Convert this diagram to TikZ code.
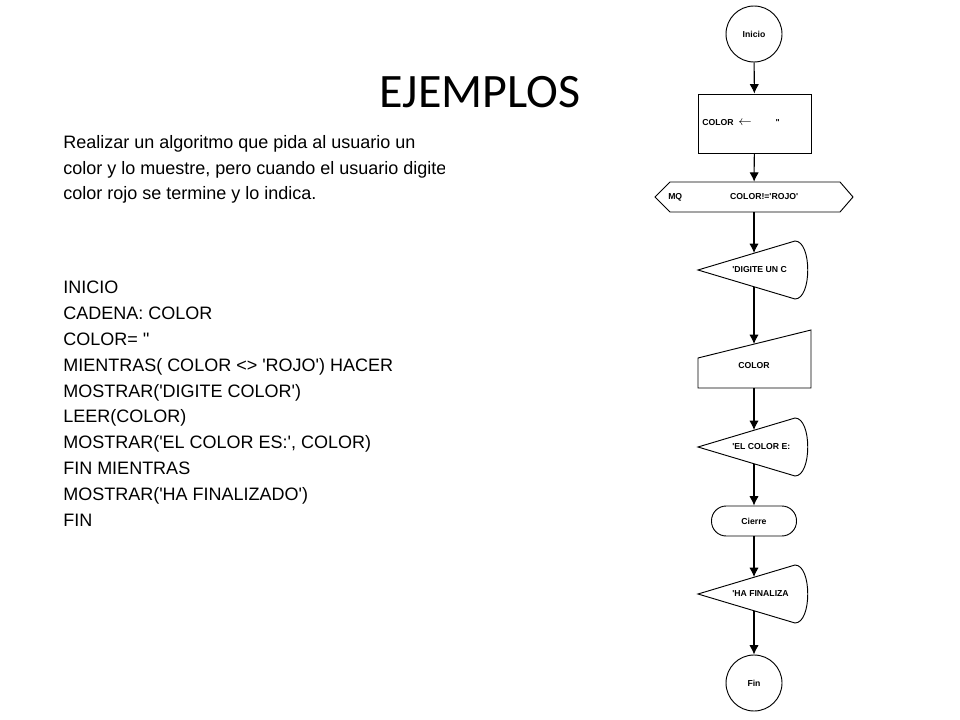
\documentclass[tikz,border=0pt]{standalone}
\usetikzlibrary{arrows.meta}
\usepackage{fontspec}
\setmainfont{Liberation Sans}[Ligatures=TeXOff]
\newfontfamily\titlefont{Carlito}
\begin{document}
\begin{tikzpicture}[x=0.75pt,y=-0.75pt,
  shp/.style={draw=black,line width=0.7pt},
  lbl/.style={font=\fontsize{6.5}{7}\selectfont\bfseries,inner sep=0pt},
  arr/.style={draw,line width=0.8pt,-{Latex[length=7pt,width=7pt]}},
  body/.style={font=\fontsize{13.5}{19.35}\selectfont,align=left,anchor=north west,inner sep=0pt}]
\useasboundingbox (0,0) rectangle (960,720);
\fill[white] (0,0) rectangle (960,720);
\node[body] (para) at (63,135) {Realizar un algoritmo que pida al usuario un\\color y lo muestre, pero cuando el usuario digite el\\color rojo se termine y lo indica.};
\node[body] (code) at (63,281) {INICIO\\CADENA: COLOR\\COLOR= ''\\MIENTRAS( COLOR <> 'ROJO') HACER\\MOSTRAR('DIGITE COLOR')\\LEER(COLOR)\\MOSTRAR('EL COLOR ES:', COLOR)\\FIN MIENTRAS\\MOSTRAR('HA FINALIZADO')\\FIN};
\fill[white] (445,0) rectangle (960,720);
\node[font=\titlefont\fontsize{36}{40}\selectfont] (title) at (480,92) {EJEMPLOS};
% flowchart
\node[shp,circle,minimum size=42pt,lbl] (ini) at (754,34) {Inicio};
\node[shp,rectangle,minimum width=84.75pt,minimum height=44.25pt] (asg) at (754.5,123.5) {};
\node[lbl,anchor=west] (asgt) at (702,123) {COLOR \ {\fontsize{10}{10}\selectfont$\leftarrow$}\hspace{18pt}"};
\draw[shp] (670,182) -- (840,182) -- (853,197) -- (840,212) -- (670,212) -- (655,197) -- cycle;
\node[inner sep=0pt,minimum width=148pt,minimum height=22.5pt] (mq) at (754,197) {};
\node[lbl,anchor=west] (mqt) at (668,197) {MQ\hspace{36pt}COLOR!='ROJO'};
\draw[shp] (698,270) -- (795,241) .. controls (812,241) and (812,299) .. (795,299) -- cycle;
\coordinate (d1in) at (754,253);
\coordinate (d1out) at (754,287);
\node[lbl,anchor=west] (d1t) at (732,270) {'DIGITE UN C};
\draw[shp] (698,358) -- (811,330) -- (811,388) -- (698,388) -- cycle;
\coordinate (rdin) at (754,344);
\coordinate (rdout) at (754,388);
\node[lbl] (rdt) at (754,366) {COLOR};
\draw[shp] (698,447) -- (795,418) .. controls (812,418) and (812,476) .. (795,476) -- cycle;
\coordinate (d2in) at (754,430);
\coordinate (d2out) at (754,464);
\node[lbl,anchor=west] (d2t) at (732,447) {'EL COLOR E:};
\node[shp,rounded corners=11pt,minimum width=63.75pt,minimum height=22.5pt,lbl] (cie) at (754,521) {Cierre};
\draw[shp] (698,594) -- (795,565) .. controls (812,565) and (812,623) .. (795,623) -- cycle;
\coordinate (d3in) at (754,577);
\coordinate (d3out) at (754,611);
\node[lbl,anchor=west] (d3t) at (732,594) {'HA FINALIZA};
\node[shp,circle,minimum size=42pt,lbl] (fin) at (754,683) {Fin};
\draw[arr] (ini) -- (asg);
\draw[arr] (asg) -- (mq);
\draw[arr] (mq) -- (d1in);
\draw[arr] (d1out) -- (rdin);
\draw[arr] (rdout) -- (d2in);
\draw[arr] (d2out) -- (cie);
\draw[arr] (cie) -- (d3in);
\draw[arr] (d3out) -- (fin);
\end{tikzpicture}
\end{document}
